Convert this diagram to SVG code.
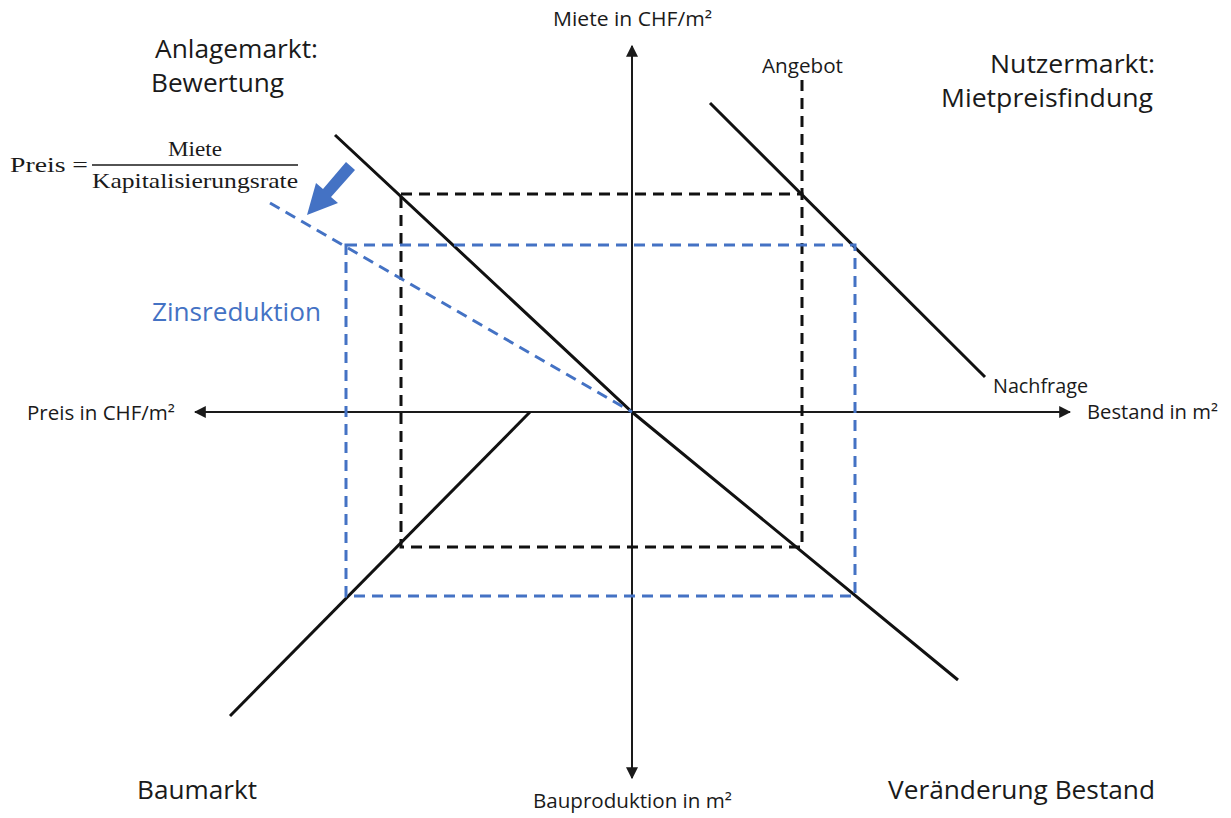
<svg xmlns="http://www.w3.org/2000/svg" width="1231" height="818" viewBox="0 0 1231 818">
<style>
.t{font-family:"Open Sans","Liberation Sans",sans-serif;fill:#1a1a1a}
.big{font-size:25px}
.sm{font-size:19.5px}
.f{font-family:"Liberation Serif","DejaVu Serif",serif;font-size:22px;fill:#1a1a1a}
.ax{stroke:#1a1a1a;stroke-width:2;fill:none}
.ln{stroke:#111;stroke-width:3;fill:none}
.bd{stroke:#111;stroke-width:3;fill:none;stroke-dasharray:11,7}
.bl{stroke:#4472c4;stroke-width:3;fill:none;stroke-dasharray:11,7}
</style>
<defs>
<marker id="ah" viewBox="0 0 10 10" refX="9" refY="5" markerWidth="6" markerHeight="6" orient="auto" markerUnits="strokeWidth">
<path d="M0,0 L10,5 L0,10 z" fill="#1a1a1a"/>
</marker>
</defs>
<rect width="1231" height="818" fill="#fff"/>
<g id="connectors">
<line class="ax" x1="632" y1="412" x2="632" y2="46" marker-end="url(#ah)"/>
<line class="ax" x1="632" y1="412" x2="632" y2="778" marker-end="url(#ah)"/>
<line class="ax" x1="632" y1="412" x2="1070" y2="412" marker-end="url(#ah)"/>
<line class="ax" x1="632" y1="412" x2="195" y2="412" marker-end="url(#ah)"/>
<line class="ln" x1="710" y1="103" x2="985" y2="377"/>
<polyline class="ln" points="335,135 632,412 958,680"/>
<line class="ln" x1="230" y1="716" x2="530" y2="412"/>
<line class="bd" x1="802" y1="80" x2="802" y2="194"/>
<rect class="bd" x="401" y="194" width="401" height="353"/>
<rect class="bl" x="346" y="245" width="509" height="351"/>
<line class="bl" x1="270" y1="203" x2="632" y2="412"/>
<path d="M355,170 L346,162 L323,189 L316,183 L307,215 L338,203 L331,197 Z" fill="#4472c4"/>
</g>
<g id="formula">
<text class="f" x="10" y="172" textLength="78" lengthAdjust="spacingAndGlyphs">Preis =</text>
<line x1="92" y1="165" x2="298" y2="165" stroke="#1a1a1a" stroke-width="1.5"/>
<text class="f" x="168" y="156" textLength="54" lengthAdjust="spacingAndGlyphs">Miete</text>
<text class="f" x="92" y="188" textLength="206" lengthAdjust="spacingAndGlyphs">Kapitalisierungsrate</text>
</g>
<g id="titles">
<text class="t big" x="155" y="58" textLength="163" lengthAdjust="spacingAndGlyphs">Anlagemarkt:</text>
<text class="t big" x="151" y="92" textLength="133" lengthAdjust="spacingAndGlyphs">Bewertung</text>
<text class="t big" x="990" y="73" textLength="165" lengthAdjust="spacingAndGlyphs">Nutzermarkt:</text>
<text class="t big" x="941" y="107" textLength="212" lengthAdjust="spacingAndGlyphs">Mietpreisfindung</text>
<text class="t big" x="137" y="799" textLength="120" lengthAdjust="spacingAndGlyphs">Baumarkt</text>
<text class="t big" x="888" y="799" textLength="267" lengthAdjust="spacingAndGlyphs">Veränderung Bestand</text>
<text class="t big" x="152" y="321" textLength="169" lengthAdjust="spacingAndGlyphs" style="fill:#4472c4">Zinsreduktion</text>
</g>
<g id="labels">
<text class="t sm" x="553" y="26" textLength="159" lengthAdjust="spacingAndGlyphs">Miete in CHF/m²</text>
<text class="t sm" x="762" y="73" textLength="81" lengthAdjust="spacingAndGlyphs">Angebot</text>
<text class="t sm" x="993" y="393" textLength="95" lengthAdjust="spacingAndGlyphs">Nachfrage</text>
<text class="t sm" x="1087" y="419" textLength="131" lengthAdjust="spacingAndGlyphs">Bestand in m²</text>
<text class="t sm" x="27" y="420" textLength="148" lengthAdjust="spacingAndGlyphs">Preis in CHF/m²</text>
<text class="t sm" x="533" y="808" textLength="199" lengthAdjust="spacingAndGlyphs">Bauproduktion in m²</text>
</g>
</svg>
